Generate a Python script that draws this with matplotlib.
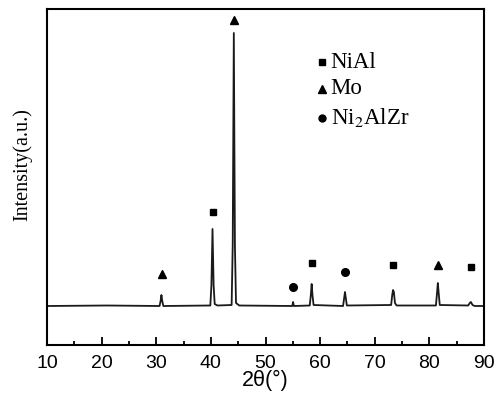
import matplotlib.pyplot as plt

plt.rcParams['mathtext.fontset'] = 'stix'

# XRD trace (2theta, intensity a.u.)
two_theta = [10, 21, 30.6, 30.8, 30.95, 31.1, 31.3,
             39.9, 40.1, 40.3, 40.5, 40.7, 41.2,
             43.8, 44.0, 44.2, 44.4, 44.6, 45.2,
             54.9, 55.05, 55.2,
             58.1, 58.3, 58.45, 58.6, 58.8,
             64.2, 64.4, 64.55, 64.7, 64.9,
             73.0, 73.2, 73.35, 73.5, 73.7, 74.0,
             81.2, 81.4, 81.55, 81.7, 81.9,
             87.1, 87.4, 87.6, 87.9, 88.3, 90]
intensity = [39, 39.5, 39, 44, 50, 44, 39,
             39.5, 60, 116, 60, 41, 39.5,
             40, 100, 312, 100, 42, 39.5,
             39, 43, 39,
             39.5, 50, 61, 50, 40,
             39, 47, 53, 47, 39.5,
             40, 50, 55, 53, 42, 39.5,
             39.5, 52, 62, 52, 40,
             39.5, 42, 43, 40, 39, 39]

# phase markers
nial_x = [40.3, 58.45, 73.4, 87.6]
nial_y = [133, 82, 80, 78]
mo_x = [31.05, 44.3, 81.6]
mo_y = [71, 325, 80]
ni2alzr_x = [55.1, 64.6]
ni2alzr_y = [58, 73]

legend_labels = ['NiAl', 'Mo', 'Ni$_2$AlZr']
legend_markers = ['s', '^', 'o']

fig = plt.figure(figsize=(5.03, 3.99), dpi=100)
ax = fig.add_axes([47 / 503, 1 - 345 / 399, 437 / 503, 336 / 399])

ax.plot(two_theta, intensity, color='#1a1a1a', lw=1.3)
ax.plot(nial_x, nial_y, 's', color='black', ms=5, ls='none')
ax.plot(mo_x, mo_y, '^', color='black', ms=6, ls='none')
ax.plot(ni2alzr_x, ni2alzr_y, 'o', color='black', ms=5.5, ls='none')

# legend drawn by hand
rows = [0.842, 0.762, 0.676]
for lab, mk, yy in zip(legend_labels, legend_markers, rows):
    ax.plot([0.629], [yy], mk, color='black', ms=5 if mk != '^' else 6,
            transform=ax.transAxes, clip_on=False)
    ax.text(0.649, yy, lab, transform=ax.transAxes, va='center', ha='left',
            fontsize=16.5, family='Liberation Serif')

ax.set_xlim(10, 90)
ax.set_ylim(0, 336)
ax.set_xticks(range(10, 91, 10))
ax.set_xticks(range(15, 90, 10), minor=True)
ax.set_yticks([])
ax.tick_params(axis='x', which='major', direction='in', length=6, width=1.3,
               labelsize=14, pad=7, top=False)
ax.tick_params(axis='x', which='minor', direction='in', length=3, width=1.3)
for lbl in ax.get_xticklabels():
    lbl.set_family('Liberation Sans')
for s in ax.spines.values():
    s.set_linewidth(1.5)

ax.set_xlabel('2θ(°)', fontsize=15.5, family='Liberation Sans', labelpad=-1)
ax.set_ylabel('Intensity(a.u.)', fontsize=14.5, family='Liberation Serif')
ax.yaxis.set_label_coords(-0.034, 0.538)

fig.savefig('out.png', dpi=100)
